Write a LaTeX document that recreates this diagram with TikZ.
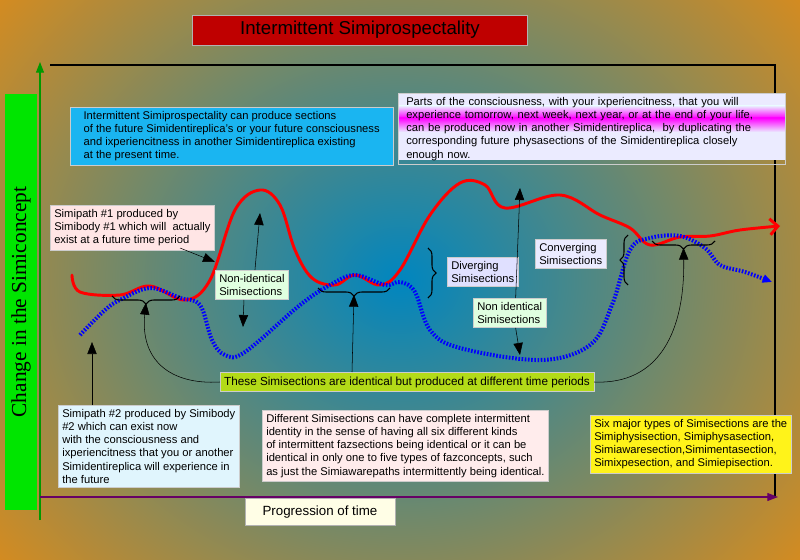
\documentclass[tikz,border=0pt]{standalone}
\usepackage{fontspec}
\setmainfont{Liberation Sans}
\newfontfamily\serifx{Liberation Serif}
\usetikzlibrary{arrows.meta,decorations.pathreplacing,shadings}
\begin{document}
\begin{tikzpicture}[x=0.75pt,y=-0.75pt,
  box/.style={draw=black!20,inner sep=3pt,align=left,anchor=north west,font=\fontsize{8.4}{9.9}\selectfont},
  arr/.style={-{Triangle[length=9pt,width=7pt]},thin},
  brc/.style={decorate,decoration={brace,amplitude=6pt},thick}]
\useasboundingbox (0,0) rectangle (800,560);
\clip (0,0) rectangle (800,560);
\fill[orange!90!yellow] (0,0) rectangle (800,560);
\shade[inner color=blue!30!cyan!75!black,outer color=orange!90!yellow] (-220,-260) rectangle (1020,820);
% title
\node[fill=red!75!black,draw=black!30,minimum width=335*0.75pt,minimum height=30*0.75pt,font=\fontsize{14}{16}\selectfont] (title) at (360,30) {Intermittent Simiprospectality};
% axes
\coordinate (o) at (40,520); \coordinate (ytop) at (40,62);
\draw[green!60!black,thick,-{Triangle[length=8pt,width=6pt]}] (o) -- (ytop);
\draw[thick] (50,65) -- (775,65) -- (775,497);
\coordinate (xs) at (40,497); \coordinate (xe) at (778,497);
\draw[violet!80!black,thick,-{Triangle[length=8pt,width=6pt]}] (xs) -- (xe);
\node[fill=green!90!black,rotate=90,minimum width=415*0.75pt,minimum height=32*0.75pt,font=\serifx\fontsize{16}{18}\selectfont] (ylab) at (21,302) {Change in the Simiconcept};
\node[fill=yellow!10,draw=black!30,minimum width=150*0.75pt,minimum height=27*0.75pt,font=\fontsize{10}{12}\selectfont] (xlab) at (320,512) {Progression of time};
% curves
\draw[red,line width=2.2pt,line cap=round,-{Straight Barb[length=6pt]}] plot[smooth,tension=0.6] coordinates{(72,275)(80,292)(120,295)(150,286)(185,300)(210,280)(235,210)(260,190)(280,205)(295,250)(312,278)(335,285)(355,275)(380,285)(400,270)(430,215)(460,183)(485,185)(505,208)(560,195)(600,215)(630,228)(650,245)(680,237)(710,236)(740,230)(780,226)};
\draw[blue,line width=3pt,dash pattern=on 1.2pt off 1.2pt,-{Triangle[length=7pt,width=6pt]}] plot[smooth,tension=0.6] coordinates{(80,335)(105,310)(120,300)(150,288)(180,298)(200,305)(212,340)(225,355)(245,352)(300,305)(330,285)(355,275)(385,285)(400,282)(415,292)(430,330)(460,348)(540,360)(590,345)(612,305)(630,250)(650,238)(680,236)(705,248)(720,265)(745,272)(772,282)};
% braces
\draw[brc] (180,296) -- node[below=5pt,coordinate](b1){} (112,296);
\draw[brc] (390,288) -- node[below=5pt,coordinate](b2){} (318,288);
\draw[brc] (715,241) -- node[below=5pt,coordinate](b3){} (652,241);
\draw[brc] (428,248) -- node[right=5pt,coordinate](b4){} (428,298);
\draw[brc] (628,285) -- node[left=5pt,coordinate](b5){} (628,235);
% boxes
\node[box,fill=cyan!90!white,inner xsep=10pt] (c1) at (70,107) {Intermittent Simiprospectality can produce sections\\of the future Simidentireplica's or your future consciousness\\and ixperiencitness in another Simidentireplica existing\\at the present time.};
\fill[blue!8] (398,93) rectangle (785,160);
\shade[top color=blue!8,bottom color=magenta] (398,106) rectangle (785,118);
\shade[top color=magenta,bottom color=blue!8] (398,118) rectangle (785,132);
\node[box,draw=black!20,text width=371*0.75pt,inner xsep=6pt,minimum height=67*0.75pt] (c2) at (398,93) {Parts of the consciousness, with your ixperiencitness, that you will\\experience tomorrow, next week, next year, or at the end of your life,\\can be produced now in another Simidentireplica,\ \ by duplicating the\\corresponding future physasections of the Simidentireplica closely\\enough now.};
\node[box,fill=pink!40] (p1) at (50,205) {Simipath \#1 produced by\\Simibody \#1 which will\ \ actually\\exist at a future time period};
\node[box,fill=green!12] (n1) at (215,270) {Non-identical\\Simisections};
\node[box,fill=blue!12] (dv) at (447,257) {Diverging\\Simisections};
\node[box,fill=blue!8] (cv) at (535,239) {Converging\\Simisections};
\node[box,fill=green!12] (n2) at (473,298) {Non identical\\Simisections};
\node[box,fill=yellow!70!green,minimum width=365*0.75pt,align=center,anchor=center,font=\fontsize{8.8}{10}\selectfont] (id) at (407,382) {These Simisections are identical but produced at different time periods};
\node[box,fill=cyan!12] (p2) at (58,405) {Simipath \#2 produced by Simibody\\\#2 which can exist now\\with the consciousness and\\ixperiencitness that you or another\\Simidentireplica will experience in\\the future};
\node[box,fill=pink!30] (df) at (262,410) {Different Simisections can have complete intermittent\\identity in the sense of having all six different kinds\\of intermittent fazsections being identical or it can be\\identical in only one to five types of fazconcepts, such\\as just the Simiawarepaths intermittently being identical.};
\node[box,fill=yellow!90!white] (sx) at (590,415) {Six major types of Simisections are the\\Simiphysisection, Simiphysasection,\\Simiawaresection,Simimentasection,\\Simixpesection, and Simiepisection.};
% arrows
\coordinate (a1e) at (215,262);
\draw[arr] (180,248) -- (a1e);
\coordinate (n1u) at (260,213); \coordinate (n1d) at (243,327);
\draw[arr] (n1.north) ++(3,0) -- (n1u);
\draw[arr] (n1.south) ++(-8,0) -- (n1d);
\coordinate (n2u) at (520,188); \coordinate (n2d) at (520,355);
\draw[arr] (n2.north) ++(6,0) -- (n2u);
\draw[arr] (n2.south) ++(6,0) -- (n2d);
\coordinate (p2u) at (92,342);
\draw[arr] (92,405) -- (p2u);
\draw[arr] (id.west) .. controls (170,385) and (140,360) .. (b1);
\draw[arr] (352,372) -- (b2);
\draw[arr] (id.east) .. controls (660,385) and (685,330) .. (b3);
\end{tikzpicture}
\end{document}
